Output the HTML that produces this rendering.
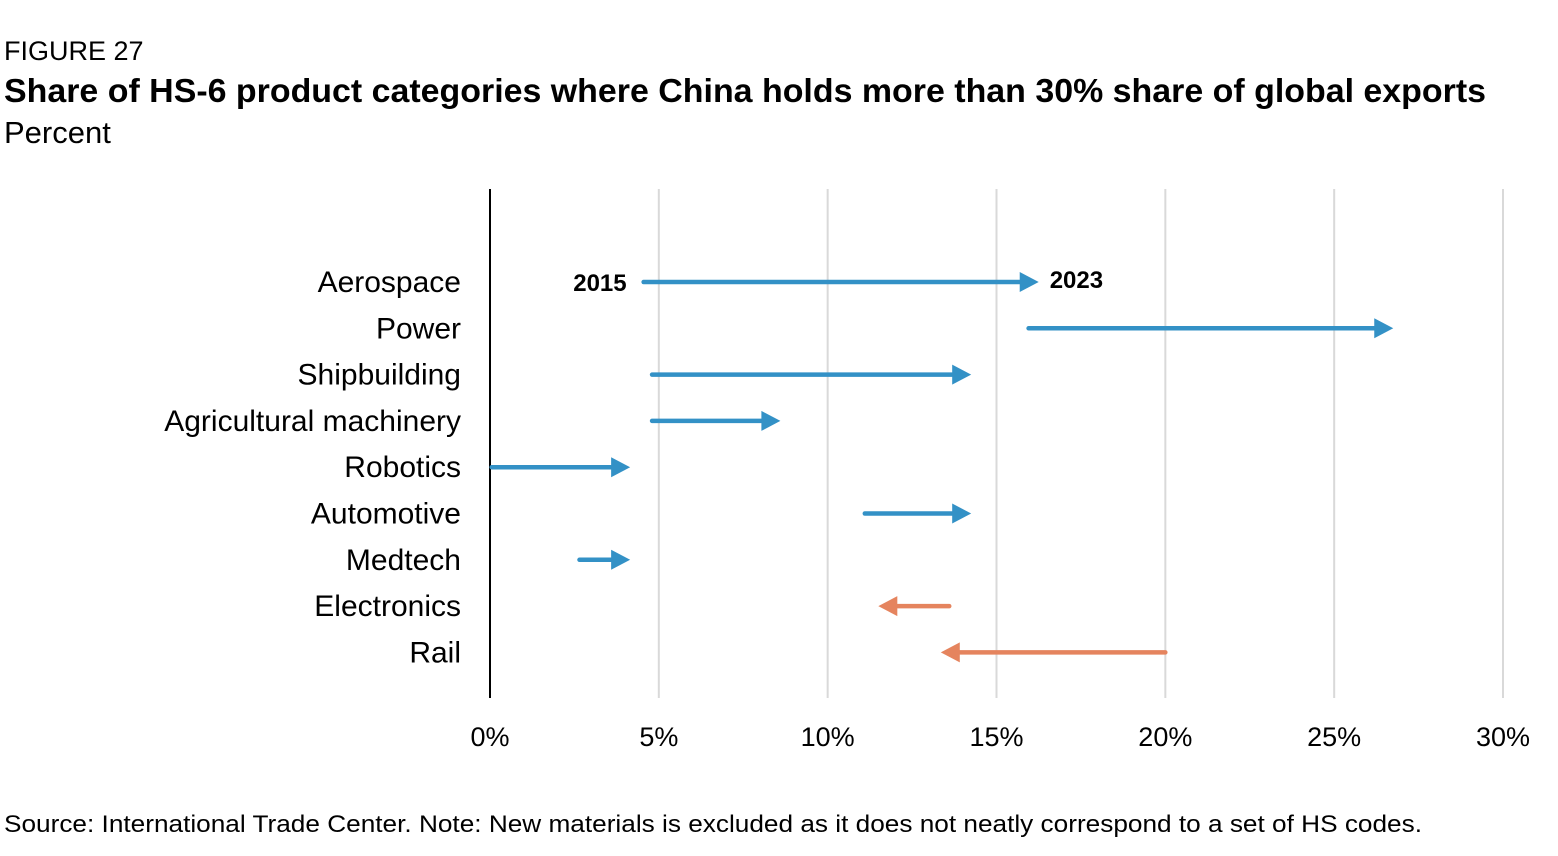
<!DOCTYPE html>
<html><head><meta charset="utf-8"><style>
body{margin:0;background:#fff;font-family:"Liberation Sans",Roboto,sans-serif;}
svg{display:block}
</style></head><body>
<svg id="chart" width="1558" height="856" xmlns="http://www.w3.org/2000/svg" font-family="Liberation Sans, sans-serif">
<text x="4" y="60" font-size="27" fill="#000">FIGURE 27</text>
<text x="4" y="102" font-size="33" font-weight="bold" fill="#000" textLength="1482" lengthAdjust="spacingAndGlyphs">Share of HS-6 product categories where China holds more than 30% share of global exports</text>
<text x="4" y="143" font-size="31" fill="#000">Percent</text>
<g id="grid"></g>
<g id="marks"></g>
<g id="labels"></g>
<text x="4" y="832" font-size="24" fill="#000" textLength="1418" lengthAdjust="spacingAndGlyphs">Source: International Trade Center. Note: New materials is excluded as it does not neatly correspond to a set of HS codes.</text>
</svg>
<script>
const categories=["Aerospace","Power","Shipbuilding","Agricultural machinery","Robotics","Automotive","Medtech","Electronics","Rail"];
const values2015=[4.55,15.95,4.8,4.8,0.05,11.1,2.65,13.6,20.0];
const values2023=[16.25,26.75,14.25,8.6,4.15,14.25,4.15,11.5,13.35];
const ticks=[0,5,10,15,20,25,30];
const tickLabels=["0%","5%","10%","15%","20%","25%","30%"];
const NS="http://www.w3.org/2000/svg";
const x0=490,x1=1503,yTop=189,yBot=698,row0=282,rowStep=46.3;
const xs=v=>x0+(v-0)/(30-0)*(x1-x0);
const ys=i=>row0+i*rowStep;
function mk(tag,attrs,parent){const e=document.createElementNS(NS,tag);for(const k in attrs)e.setAttribute(k,attrs[k]);parent.appendChild(e);return e;}
const grid=document.getElementById('grid'),marks=document.getElementById('marks'),labels=document.getElementById('labels');
ticks.forEach((t,i)=>{
  if(t!==0){const l=mk('line',{x1:xs(t),x2:xs(t),y1:yTop,y2:yBot,stroke:'#d9d9d9','stroke-width':2},grid);
  
  }
  const tx=mk('text',{x:xs(t),y:746,'font-size':27,'text-anchor':'middle',fill:'#000'},labels);
  tx.textContent=tickLabels[i];
  
  
});
const ax=mk('line',{x1:x0,x2:x0,y1:yTop,y2:yBot,stroke:'#000','stroke-width':2},grid);


categories.forEach((c,i)=>{
  const y=ys(i);
  const t=mk('text',{x:461,y:y+10,'font-size':30,'text-anchor':'end',fill:'#000'},labels);
  t.textContent=c;
  
  
  const a=xs(values2015[i]),b=xs(values2023[i]);
  const dir=b>=a?1:-1;
  const col=dir>0?'#3391c6':'#e5845e';
  const hl=19,hh=10;
  const ln=mk('line',{x1:a,x2:b-dir*hl,y1:y,y2:y,stroke:col,'stroke-width':4.5,'stroke-linecap':'round'},marks);
  
  
  const p=mk('polygon',{points:`${b},${y} ${b-dir*hl},${y-hh} ${b-dir*hl},${y+hh}`,fill:col},marks);
  
  
});
const l1=mk('text',{x:xs(values2015[0])-17,y:ys(0)+9,'font-size':24,'font-weight':'bold','text-anchor':'end',fill:'#000'},labels);
l1.textContent="2015";


const l2=mk('text',{x:xs(values2023[0])+11,y:ys(0)+6,'font-size':24,'font-weight':'bold',fill:'#000'},labels);
l2.textContent="2023";


</script>
</body></html>
